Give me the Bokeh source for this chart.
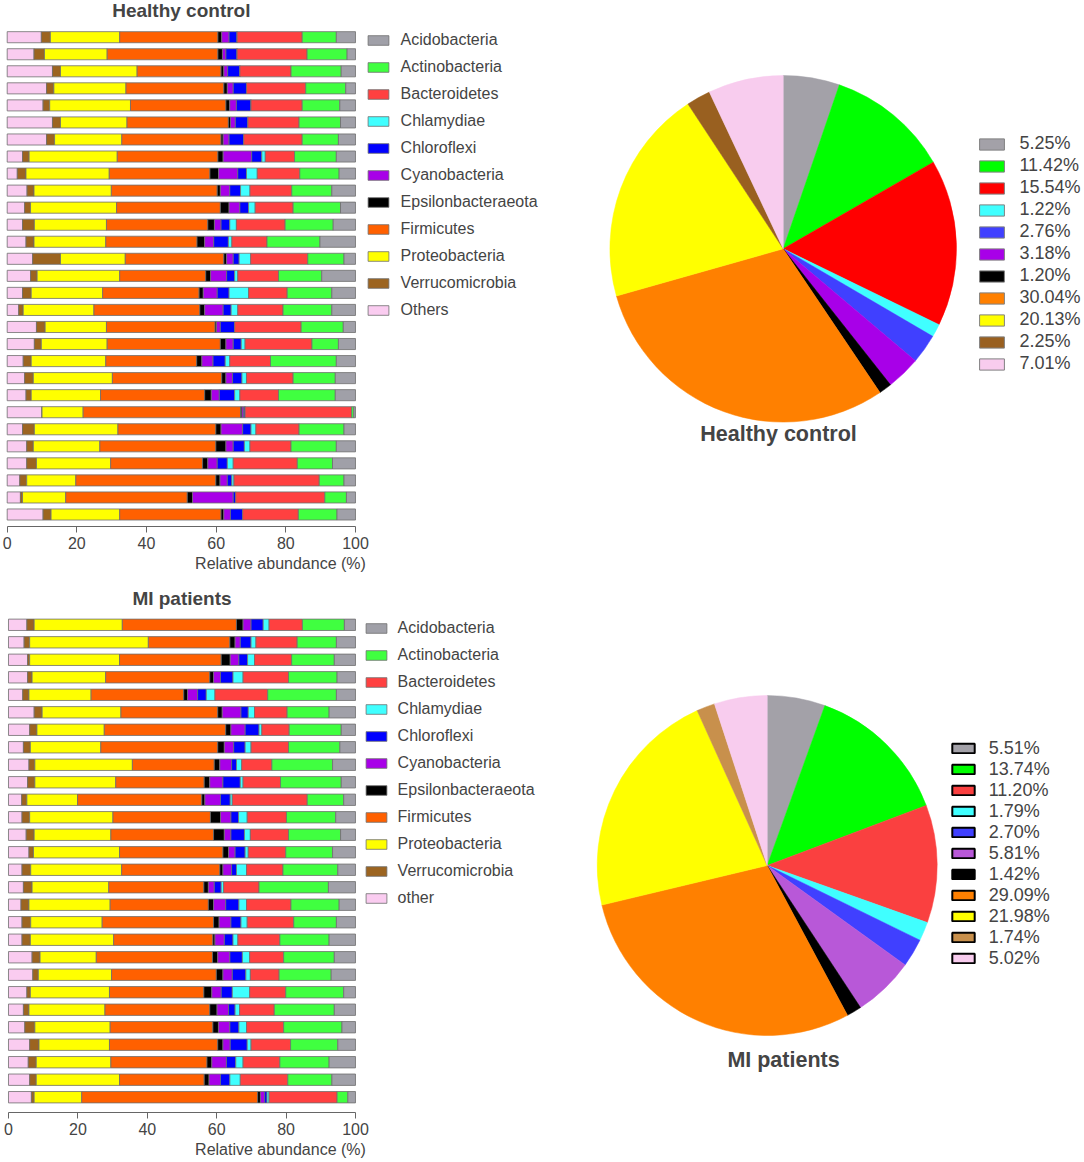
import numpy as np
from bokeh.plotting import figure
from bokeh.models import Range1d, Legend, LegendItem, Label, FixedTicker, ColumnDataSource
from bokeh.layouts import row, column
from bokeh.embed import file_html
from bokeh.resources import INLINE

FONT = "Liberation Sans"

# stacking order, left to right
phyla = ["Others", "Verrucomicrobia", "Proteobacteria", "Firmicutes", "Epsilonbacteraeota",
         "Cyanobacteria", "Chloroflexi", "Chlamydiae", "Bacteroidetes", "Actinobacteria", "Acidobacteria"]
bar_colors = ["#FACCF0", "#9C6420", "#FFFF00", "#FF6000", "#000000",
              "#A800E8", "#0000FF", "#40FFFF", "#FF4040", "#40FF40", "#A0A0A8"]

# ---------------- Healthy control samples (relative abundance %) ----------------
hc_others = [9.8, 7.7, 13.0, 11.3, 10.3, 13.0, 11.3, 4.4, 2.9, 5.7, 5.0, 4.4, 5.4, 7.3, 6.7, 4.4, 3.3, 8.4, 7.8, 4.6, 5.0, 5.4, 10.0, 4.4, 5.6, 5.6, 3.6, 3.8, 10.3]
hc_verruco = [2.6, 3.0, 2.3, 2.1, 1.9, 2.3, 2.3, 1.9, 2.5, 2.0, 1.7, 3.4, 2.3, 8.0, 1.9, 2.5, 1.3, 2.5, 2.0, 2.3, 2.5, 1.5, 0.0, 3.4, 1.9, 2.8, 2.0, 0.6, 2.3]
hc_proteo = [19.9, 18.0, 22.0, 20.7, 23.2, 19.1, 19.3, 25.3, 23.9, 22.2, 24.7, 20.7, 20.6, 18.6, 23.7, 20.5, 20.3, 17.6, 18.9, 21.4, 22.7, 19.9, 11.8, 24.0, 19.1, 21.3, 14.1, 12.4, 19.7]
hc_firmi = [28.2, 31.8, 24.1, 28.1, 27.4, 29.1, 28.5, 28.9, 28.9, 30.4, 29.8, 29.1, 26.2, 28.3, 24.7, 27.7, 30.4, 31.2, 32.5, 26.1, 31.4, 29.9, 45.2, 28.1, 33.3, 26.4, 40.2, 34.9, 29.1]
hc_epsilon = [1.1, 1.3, 0.8, 1.0, 1.1, 0.6, 0.6, 1.5, 2.5, 0.9, 2.5, 1.9, 2.2, 0.8, 1.4, 1.2, 1.4, 0.4, 1.6, 1.5, 1.2, 1.9, 0.4, 1.5, 2.9, 1.5, 1.2, 1.5, 0.8]
hc_cyano = [2.1, 1.0, 1.1, 1.7, 1.9, 1.4, 1.7, 8.2, 5.5, 2.7, 3.1, 1.9, 2.6, 1.9, 4.6, 4.0, 5.3, 1.1, 2.1, 3.2, 1.9, 2.3, 0.5, 6.2, 2.1, 2.7, 2.1, 11.7, 1.9]
hc_chloro = [2.3, 3.2, 3.5, 3.8, 4.2, 3.6, 4.2, 2.9, 2.5, 3.1, 2.5, 2.5, 4.2, 1.7, 2.3, 3.4, 2.3, 4.1, 2.3, 3.5, 2.7, 4.4, 0.4, 2.4, 3.2, 2.9, 1.3, 0.7, 3.5]
hc_chlamy = [0.0, 0.0, 0.0, 0.0, 0.0, 0.0, 0.0, 1.0, 3.1, 2.7, 1.9, 1.9, 1.0, 3.3, 0.9, 5.6, 1.9, 0.0, 1.1, 1.3, 1.3, 1.5, 0.0, 1.4, 1.6, 1.7, 0.6, 0.0, 0.0]
hc_bactero = [18.7, 20.1, 14.7, 17.0, 14.7, 14.7, 16.8, 8.4, 12.2, 12.0, 10.9, 14.0, 10.1, 16.4, 11.7, 11.1, 13.0, 19.1, 19.2, 11.7, 13.4, 11.1, 30.6, 12.4, 11.8, 18.4, 24.5, 25.6, 16.0]
hc_actino = [9.8, 11.5, 14.4, 11.5, 10.8, 11.9, 10.4, 12.0, 11.3, 11.5, 13.6, 13.8, 15.2, 10.4, 12.4, 12.8, 14.0, 12.1, 7.6, 18.9, 12.1, 16.3, 0.6, 12.9, 13.0, 10.1, 7.1, 6.2, 11.1]
hc_acido = [5.5, 2.4, 4.1, 2.8, 4.5, 4.3, 4.9, 5.5, 4.7, 6.8, 4.3, 6.4, 10.2, 3.3, 9.7, 6.8, 6.8, 3.5, 4.9, 5.5, 5.8, 5.8, 0.5, 3.3, 5.5, 6.6, 3.3, 2.6, 5.3]

# ---------------- MI patient samples (relative abundance %) ----------------
mi_others = [5.3, 4.5, 5.5, 5.5, 4.1, 7.4, 6.1, 4.3, 5.9, 5.5, 3.8, 3.9, 5.1, 5.9, 3.9, 4.3, 3.6, 3.9, 3.9, 6.8, 7.0, 5.3, 4.3, 4.7, 6.1, 5.7, 6.1, 6.6]
mi_verruco = [2.1, 1.6, 0.6, 1.3, 1.8, 2.3, 2.1, 2.0, 1.7, 2.1, 1.5, 2.2, 2.3, 1.3, 2.5, 2.5, 2.3, 2.5, 2.4, 2.3, 1.6, 1.0, 1.6, 2.9, 2.7, 2.3, 1.9, 0.8]
mi_proteo = [25.4, 34.2, 25.9, 21.2, 17.9, 22.7, 19.4, 20.3, 28.1, 23.3, 14.6, 24.0, 22.1, 24.8, 26.2, 22.1, 23.4, 20.6, 24.0, 16.2, 21.1, 22.8, 21.9, 21.7, 20.3, 21.5, 24.0, 13.7]
mi_firmi = [32.9, 23.5, 29.3, 30.0, 26.7, 27.9, 35.0, 33.7, 23.6, 25.5, 35.8, 28.1, 29.6, 29.8, 28.3, 27.4, 28.3, 32.1, 28.6, 33.5, 30.2, 27.2, 30.2, 29.6, 31.2, 27.7, 24.4, 50.7]
mi_epsilon = [1.9, 1.5, 2.6, 1.1, 1.1, 1.3, 1.5, 1.9, 1.6, 1.6, 0.9, 2.9, 3.1, 1.6, 0.9, 1.3, 1.5, 1.6, 0.6, 1.5, 1.9, 2.3, 2.1, 1.6, 1.5, 1.4, 1.4, 0.8]
mi_cyano = [2.3, 1.5, 2.5, 2.0, 2.9, 5.4, 4.1, 2.7, 3.4, 3.8, 4.5, 3.0, 1.9, 1.9, 2.5, 1.7, 3.5, 3.4, 2.7, 3.5, 2.7, 2.7, 3.3, 3.3, 2.1, 4.2, 3.3, 1.2]
mi_chloro = [3.5, 3.1, 2.5, 3.6, 2.5, 2.1, 4.0, 3.3, 1.4, 5.0, 2.8, 2.2, 3.9, 2.9, 1.4, 2.0, 3.8, 2.9, 2.5, 3.6, 3.9, 3.2, 1.9, 2.6, 4.9, 2.7, 2.7, 0.7]
mi_chlamy = [1.7, 1.4, 2.0, 2.9, 2.5, 1.8, 0.8, 1.7, 1.5, 0.8, 0.6, 2.5, 1.7, 0.9, 2.9, 0.7, 2.2, 1.8, 1.4, 2.1, 1.3, 5.0, 1.3, 2.2, 1.1, 2.1, 3.0, 0.6]
mi_bactero = [9.6, 11.9, 10.7, 13.1, 15.2, 9.4, 7.9, 10.8, 8.7, 10.8, 21.6, 11.3, 11.0, 10.8, 10.5, 10.2, 12.8, 13.4, 12.1, 9.8, 8.3, 10.4, 10.0, 10.7, 11.4, 10.6, 13.7, 19.6]
mi_actino = [12.1, 11.3, 12.3, 14.0, 19.8, 12.1, 15.0, 14.8, 17.5, 17.5, 10.5, 14.2, 15.0, 13.5, 15.8, 20.0, 13.9, 12.3, 14.2, 14.6, 15.0, 16.7, 17.3, 16.8, 13.6, 14.2, 12.7, 3.1]
mi_acido = [3.2, 5.5, 6.1, 5.3, 5.5, 7.6, 4.1, 4.5, 6.6, 4.1, 3.4, 5.7, 4.3, 6.6, 5.1, 7.8, 4.7, 5.5, 7.6, 6.1, 7.0, 3.4, 6.1, 3.9, 5.1, 7.6, 6.8, 2.2]

# ---------------- pie charts (group means, legend order) ----------------
pie_order = ["Acidobacteria", "Actinobacteria", "Bacteroidetes", "Chlamydiae", "Chloroflexi",
             "Cyanobacteria", "Epsilonbacteraeota", "Firmicutes", "Proteobacteria", "Verrucomicrobia", "Others"]
hc_pie = [5.25, 11.42, 15.54, 1.22, 2.76, 3.18, 1.20, 30.04, 20.13, 2.25, 7.01]
mi_pie = [5.51, 13.74, 11.20, 1.79, 2.70, 5.81, 1.42, 29.09, 21.98, 1.74, 5.02]
hc_pie_colors = ["#A3A1A8", "#00FF00", "#FF0000", "#40FFFF", "#4040FF", "#A800E8", "#000000",
                 "#FF8000", "#FFFF00", "#996020", "#F8CCEE"]
mi_pie_colors = ["#A3A1A8", "#00FF00", "#FA4040", "#40FFFF", "#4040FF", "#B858D8", "#000000",
                 "#FF8000", "#FFFF00", "#C8904C", "#F8CCEE"]

PIE_W = 524


def bar_panel(title, cols, other_label, height, mb, xr, y0, y1, title_y, leg_x, leg_y, standoff):
    n = len(cols[0])
    data = {"row": list(range(n))}
    keys = ["s%d" % i for i in range(len(phyla))]
    for k, c in zip(keys, cols):
        data[k] = c
    src = ColumnDataSource(data)
    p = figure(width=560, height=height, x_range=Range1d(*xr),
               y_range=Range1d(y0, y1), output_backend="svg", toolbar_location=None,
               min_border_left=0, min_border_right=0, min_border_top=0, min_border_bottom=mb,
               y_axis_location=None, outline_line_color=None, frame_align=False)
    p.grid.visible = False
    rends = p.hbar_stack(keys, y="row", height=0.65, fill_color=bar_colors,
                         line_color="#6E6E6E", line_width=0.8, source=src)
    ax = p.xaxis[0]
    ax.ticker = FixedTicker(ticks=[0, 20, 40, 60, 80, 100])
    ax.bounds = (0, 100)
    ax.axis_label = "Relative abundance (%)"
    ax.axis_label_text_font = FONT
    ax.axis_label_text_font_style = "normal"
    ax.axis_label_text_font_size = "16px"
    ax.axis_label_standoff = 3
    ax.major_label_text_font = FONT
    ax.major_label_text_font_size = "16px"
    ax.major_label_standoff = 4
    ax.major_tick_out = 6
    ax.major_tick_in = 0
    ax.minor_tick_line_color = None
    ax.axis_line_color = "#666666"
    ax.major_tick_line_color = "#666666"
    labels = list(phyla)
    labels[0] = other_label
    items = [LegendItem(label=labels[i], renderers=[rends[i]]) for i in range(len(phyla) - 1, -1, -1)]
    leg = Legend(items=items, location=(leg_x, leg_y), glyph_width=26, glyph_height=12,
                 label_height=22, spacing=5, label_standoff=standoff, padding=5,
                 border_line_color=None, background_fill_alpha=0,
                 label_text_font=FONT, label_text_font_size="16px")
    p.add_layout(leg)
    p.add_layout(Label(x=50, y=title_y, text=title, text_align="center", text_baseline="middle",
                       text_font=FONT, text_font_style="bold", text_font_size="19px"))
    return p


def pie_panel(title, vals, colors, height, xr, yr, title_xy, edge, edge_w, leg_x, leg_y,
              gw, gh, standoff, item_h):
    v = np.array(vals, dtype=float)
    frac = v / v.sum()
    cum = np.concatenate([[0.0], np.cumsum(frac)])
    start = np.pi / 2 - 2 * np.pi * cum[:-1]
    end = np.pi / 2 - 2 * np.pi * cum[1:]
    src = ColumnDataSource(dict(start=start, end=end, color=colors,
                                label=["%.2f%%" % x for x in vals]))
    p = figure(width=PIE_W, height=height, x_range=Range1d(*xr), y_range=Range1d(*yr),
               output_backend="svg", toolbar_location=None, min_border=0,
               outline_line_color=None, frame_align=False)
    p.axis.visible = False
    p.grid.visible = False
    # zero-radius wedges only serve as legend swatches (drawn first, hidden beneath the pie)
    sw = p.wedge(x=0, y=0, radius=0, start_angle="start", end_angle="end", direction="clock",
                 fill_color="color", line_color=edge, line_width=edge_w, source=src)
    p.wedge(x=0, y=0, radius=1, start_angle="start", end_angle="end", direction="clock",
            fill_color="color", line_color="color", line_width=0.5, source=src)
    items = [LegendItem(label="%.2f%%" % vals[i], renderers=[sw], index=i) for i in range(len(vals))]
    leg = Legend(items=items, location=(leg_x, leg_y), glyph_width=gw, glyph_height=gh,
                 label_height=item_h, spacing=0, label_standoff=standoff, padding=4,
                 border_line_color=None, background_fill_alpha=0,
                 label_text_font=FONT, label_text_font_size="18px")
    p.add_layout(leg)
    p.add_layout(Label(x=title_xy[0], y=title_xy[1], text=title, text_align="center",
                       text_baseline="middle", text_font=FONT, text_font_style="bold",
                       text_font_size="21.5px"))
    return p


hc_cols = [hc_others, hc_verruco, hc_proteo, hc_firmi, hc_epsilon, hc_cyano, hc_chloro,
           hc_chlamy, hc_bactero, hc_actino, hc_acido]
mi_cols = [mi_others, mi_verruco, mi_proteo, mi_firmi, mi_epsilon, mi_cyano, mi_chloro,
           mi_chlamy, mi_bactero, mi_actino, mi_acido]

p1 = bar_panel("Healthy control", hc_cols, "Others", 580, 54, (-1.924, 158.86),
               28.704, -2.153, -1.566, 364.6, 205.2, 10)
p2 = pie_panel("Healthy control", hc_pie, hc_pie_colors, 580,
               (-222.7 / 173.3, (PIE_W - 222.7) / 173.3), (-1.9140, 1.4328),
               (-0.027, -1.066), "#808080", 1, 416.4, 205.2, 31, 14, 12, 22)
p3 = bar_panel("MI patients", mi_cols, "other", 580, 48, (-2.305, 159.08),
               27.874, -2.532, -1.503, 362.6, 203.5, 9)
p4 = pie_panel("MI patients", mi_pie, mi_pie_colors, 580,
               (-206.7 / 170.0, (PIE_W - 206.7) / 170.0), (-1.7353, 1.6765),
               (0.096, -1.147), "#000000", 2, 388.7, 191.3, 28, 12, 12, 21)

layout = column(row(p1, p2), row(p3, p4))
open("out.html", "w").write(file_html(layout, INLINE))
